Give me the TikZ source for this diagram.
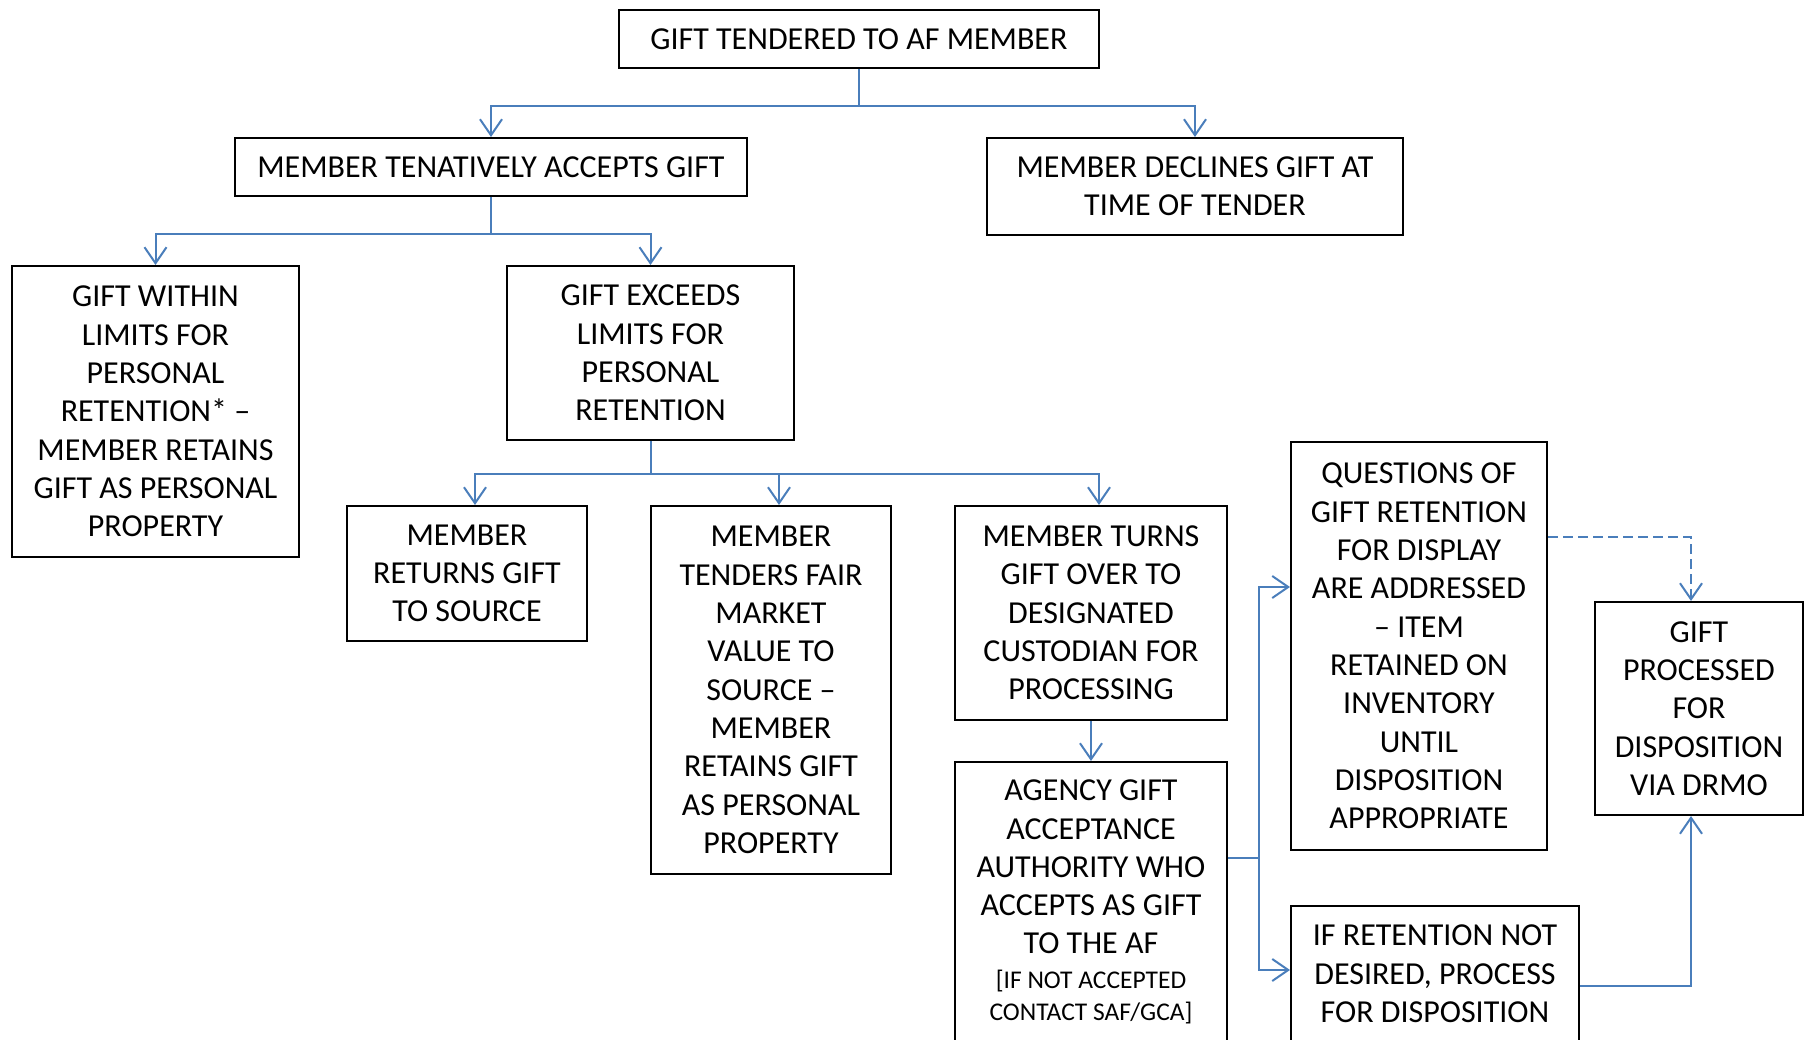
\documentclass[tikz,border=0pt]{standalone}
\usepackage{fontspec}
\setmainfont{Carlito}
\usetikzlibrary{arrows.meta}
\definecolor{linkblue}{RGB}{74,126,187}

\begin{document}
\begin{tikzpicture}[x=1pt,y=-1pt,
		box/.style={draw=black,line width=2pt,inner sep=0pt,align=center,
			font=\fontsize{32}{38.3}\selectfont},
		link/.style={draw=linkblue,line width=2pt},
		arr/.style={link,-{Straight Barb[length=16pt,width=22pt]}}]
		\useasboundingbox (0,0) rectangle (1808,1040);
		% boxes
		\node[box,minimum width=480pt,minimum height=58pt] (gift) at (859,39) {GIFT TENDERED TO AF MEMBER};
		\node[box,minimum width=512pt,minimum height=58pt] (accept) at (491,167) {MEMBER TENATIVELY ACCEPTS GIFT};
		\node[box,minimum width=416pt,minimum height=97pt] (decline) at (1195,186.5) {MEMBER DECLINES GIFT AT\\TIME OF TENDER};
		\node[box,minimum width=287pt,minimum height=291pt] (within) at (155.5,411.5) {GIFT WITHIN\\LIMITS FOR\\PERSONAL\\RETENTION* --\\MEMBER RETAINS\\GIFT AS PERSONAL\\PROPERTY};
		\node[box,minimum width=287pt,minimum height=174pt] (exceeds) at (650.5,353) {GIFT EXCEEDS\\LIMITS FOR\\PERSONAL\\RETENTION};
		\node[box,minimum width=240pt,minimum height=135pt] (returns) at (467,573.5) {MEMBER\\RETURNS GIFT\\TO SOURCE};
		\node[box,minimum width=240pt,minimum height=368pt] (tenders) at (771,690) {MEMBER\\TENDERS FAIR\\MARKET\\VALUE TO\\SOURCE --\\MEMBER\\RETAINS GIFT\\AS PERSONAL\\PROPERTY};
		\node[box,minimum width=272pt,minimum height=214pt] (turns) at (1091,613) {MEMBER TURNS\\GIFT OVER TO\\DESIGNATED\\CUSTODIAN FOR\\PROCESSING};
		\node[box,minimum width=272pt,minimum height=280pt] (agency) at (1091,902) {AGENCY GIFT\\ACCEPTANCE\\AUTHORITY WHO\\ACCEPTS AS GIFT\\TO THE AF\\[-4pt]{\fontsize{25.5}{30}\selectfont [IF NOT ACCEPTED}\\[-6pt]{\fontsize{25.5}{30}\selectfont CONTACT SAF/GCA]}};
		\node[box,minimum width=256pt,minimum height=408pt] (questions) at (1419,646) {QUESTIONS OF\\GIFT RETENTION\\FOR DISPLAY\\ARE ADDRESSED\\-- ITEM\\RETAINED ON\\INVENTORY\\UNTIL\\DISPOSITION\\APPROPRIATE};
		\node[box,minimum width=208pt,minimum height=213pt] (processed) at (1699,708.5) {GIFT\\PROCESSED\\FOR\\DISPOSITION\\VIA DRMO};
		\node[box,minimum width=288pt,minimum height=136pt] (retention) at (1435,974) {IF RETENTION NOT\\DESIRED, PROCESS\\FOR DISPOSITION};
		% connectors
		\draw[link] (gift.south) -- (gift.south |- 0,106);
		\draw[arr] (gift.south |- 0,106) -| (accept.north);
		\draw[arr] (gift.south |- 0,106) -| (decline.north);
		\draw[link] (accept.south) -- (accept.south |- 0,234);
		\draw[arr] (accept.south |- 0,234) -| (within.north);
		\draw[arr] (accept.south |- 0,234) -| (exceeds.north);
		\coordinate (fork) at (exceeds.south |- 0,474);
		\draw[link] (exceeds.south) -- (fork);
		\draw[arr] (fork) -| ([xshift=8pt]returns.north);
		\draw[arr] (fork) -| ([xshift=8pt]tenders.north);
		\draw[arr] (fork) -| ([xshift=8pt]turns.north);
		\draw[arr] (turns.south) -- (agency.north);
		\coordinate (split) at (1259,858);
		\draw[link] (agency.east |- split) -- (split);
		\draw[arr] (split) |- (questions.west |- 0,587);
		\draw[arr] (split) |- (retention.west |- 0,970);
		\draw[arr,dash pattern=on 10pt off 5pt] (questions.east |- 0,537) -| ([xshift=-8pt]processed.north);
		\draw[arr] (retention.east |- 0,986) -| ([xshift=-8pt]processed.south);
	\end{tikzpicture}
\end{document}
